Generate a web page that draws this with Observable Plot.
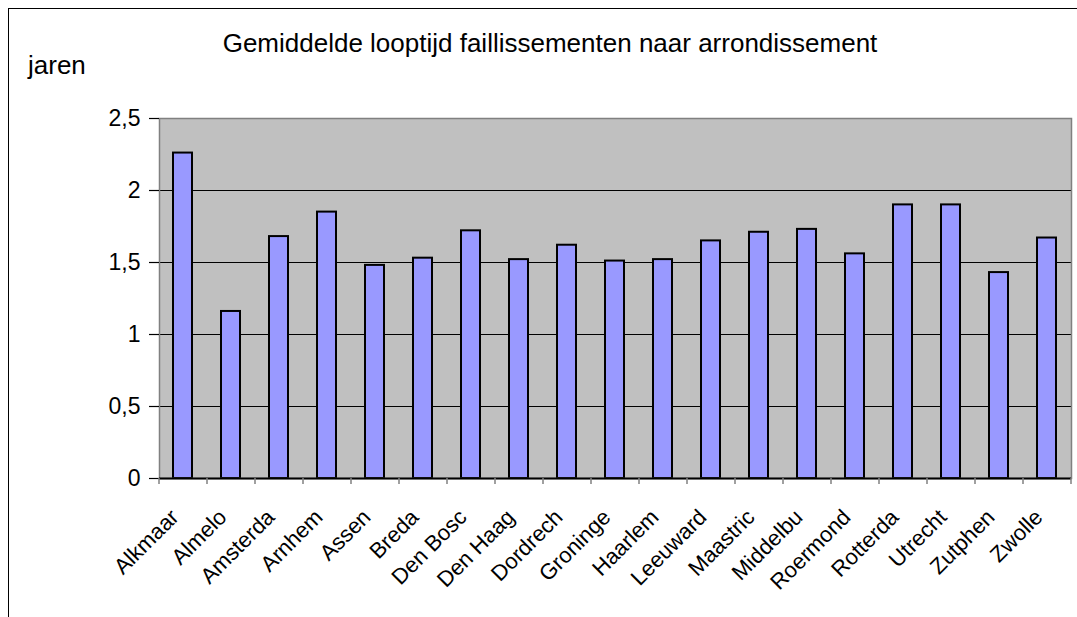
<!DOCTYPE html>
<html><head><meta charset="utf-8">
<script src="https://cdn.jsdelivr.net/npm/d3@7"></script>
<script src="https://cdn.jsdelivr.net/npm/@observablehq/plot@0.6"></script>
<style>
body{margin:0;background:#fff;}
#wrap{position:relative;width:1077px;height:617px;overflow:hidden;font-family:"Liberation Sans",Arial,sans-serif;color:#000;}
#border{position:absolute;left:8px;top:8px;width:2000px;height:2000px;border-left:1px solid #000;border-top:1px solid #000;}
#title{position:absolute;left:0;width:1100px;text-align:center;top:30px;font-size:26px;line-height:26px;white-space:nowrap;}
#unit{position:absolute;left:28px;top:52px;font-size:26px;line-height:26px;}
#chart{position:absolute;left:0;top:0;}
</style></head>
<body>
<div id="wrap">
<div id="chart"></div>
<div id="border"></div>
<div id="title">Gemiddelde looptijd faillissementen naar arrondissement</div>
<div id="unit">jaren</div>
</div>
<script>
const categories = ["Alkmaar","Almelo","Amsterda","Arnhem","Assen","Breda","Den Bosc","Den Haag","Dordrech","Groninge","Haarlem","Leeuward","Maastric","Middelbu","Roermond","Rotterda","Utrecht","Zutphen","Zwolle"];
const values = [2.26,1.16,1.68,1.85,1.48,1.53,1.72,1.52,1.62,1.51,1.52,1.65,1.71,1.73,1.56,1.90,1.90,1.43,1.67];
const yTicks = [0,0.5,1,1.5,2,2.5];
const yTickLabels = ["0","0,5","1","1,5","2","2,5"];
const gridValues = [0.5,1,1.5,2];

const W = 1077, H = 617, mL = 159, mR = 6, mT = 118, mB = 139;
const step = (W - mL - mR) / categories.length;
const data = categories.map((c, i) => ({c, v: values[i]}));
const font = '"Liberation Sans", Arial, sans-serif';

const chart = Plot.plot({
  width: W, height: H,
  marginLeft: mL, marginRight: mR, marginTop: mT, marginBottom: mB,
  style: {fontFamily: font, fontSize: "22px", color: "#000", background: "transparent", overflow: "visible"},
  x: {domain: categories, paddingInner: 0.6, paddingOuter: 0.3, align: 0.5, axis: null},
  y: {domain: [0, 2.5], axis: null},
  marks: [
    Plot.frame({fill: "#c0c0c0"}),
    Plot.gridY(gridValues, {stroke: "#000", strokeOpacity: 1, strokeWidth: 1}),
    Plot.barY(data, {x: "c", y: "v", fill: "#9999ff", stroke: "#000", strokeWidth: 2}),
    Plot.frame({stroke: "#808080", strokeWidth: 1.5}),
    Plot.ruleY([0], {stroke: "#000", strokeWidth: 2}),
    Plot.axisY({ticks: yTicks, tickFormat: d => yTickLabels[yTicks.indexOf(d)], label: null, tickSize: 10, tickPadding: 9, fontSize: 23, stroke: "#000", strokeWidth: 1.2}),
    Plot.axisX({tickSize: 6, dx: -step / 2, tickFormat: () => "", label: null, stroke: "#808080", strokeWidth: 1.5}),
    Plot.axisX({ticks: [categories[categories.length - 1]], tickSize: 6, dx: step / 2, tickFormat: () => "", label: null, stroke: "#808080", strokeWidth: 1.5}),
    Plot.text(data, {x: "c", frameAnchor: "bottom", text: "c", rotate: -45, textAnchor: "end", lineAnchor: "middle", dx: -8, dy: 35, fontSize: 22, fill: "#000"})
  ]
});
document.getElementById("chart").appendChild(chart);
</script>
</body></html>
